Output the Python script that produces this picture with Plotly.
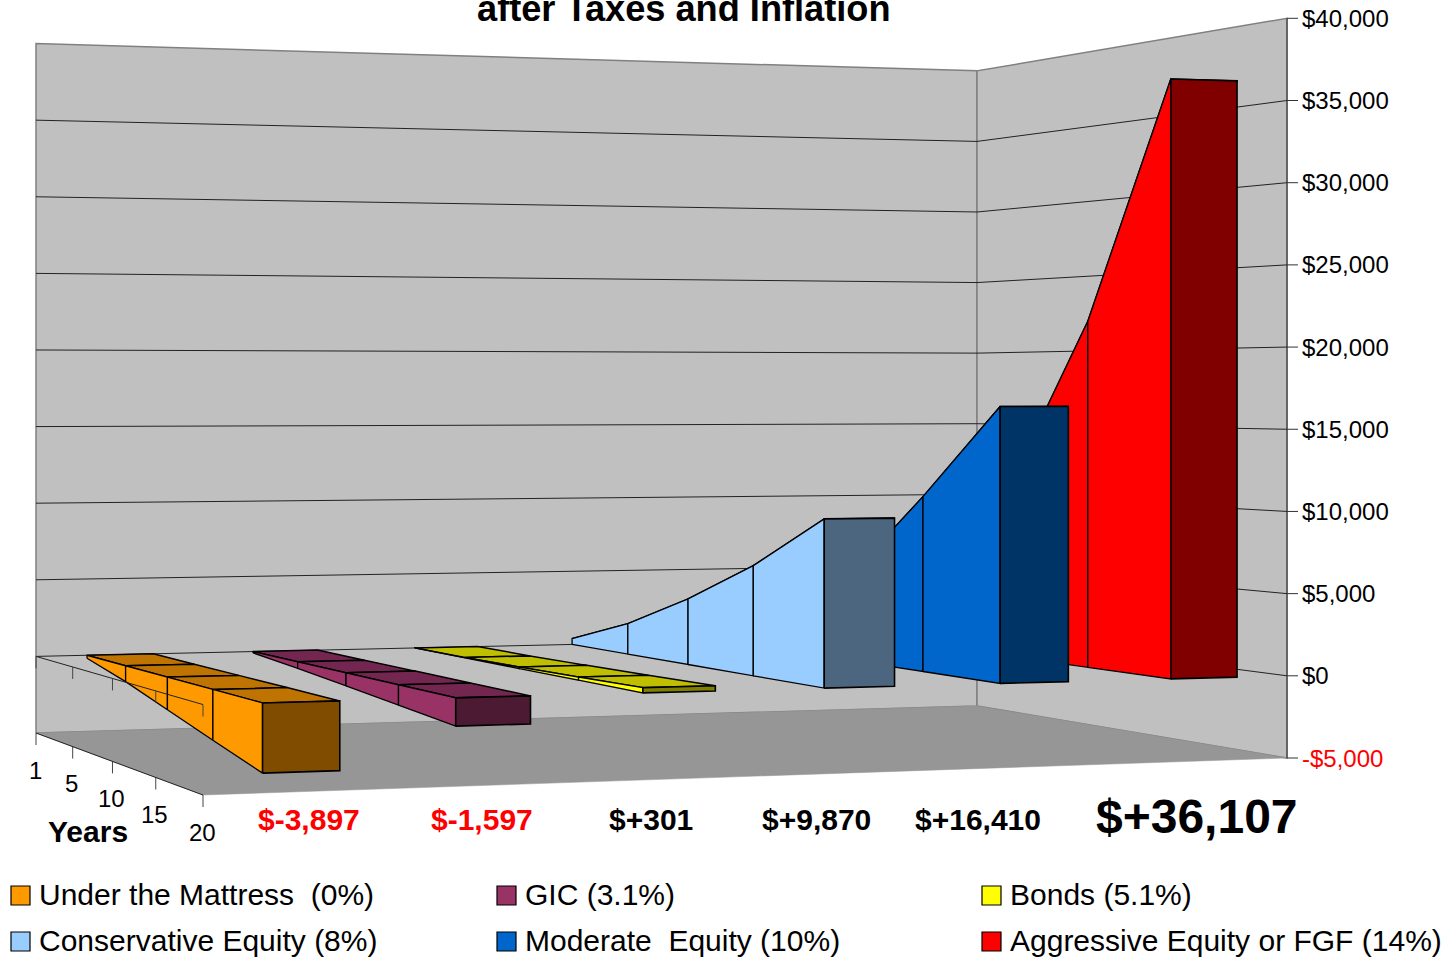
import numpy as np
import plotly.graph_objects as go

# values, years 1/5/10/15/20 (last one is the printed figure)
years = [1, 5, 10, 15, 20]
mattress = [-195, -1000, -1980, -2950, -3897]
gic = [-90, -420, -800, -1200, -1597]
bonds = [5, 30, 100, 190, 301]
conservative = [400, 2000, 4150, 6700, 9870]
moderate = [500, 2700, 5600, 10800, 16410]
aggressive = [800, 4000, 11400, 21700, 36107]

series = [mattress, gic, bonds, conservative, moderate, aggressive]
names = ["Under the Mattress  (0%)", "GIC (3.1%)", "Bonds (5.1%)",
         "Conservative Equity (8%)", "Moderate  Equity (10%)", "Aggressive Equity or FGF (14%)"]
final_labels = ["$-3,897", "$-1,597", "$+301", "$+9,870", "$+16,410", "$+36,107"]
z_ticks = [-5000, 0, 5000, 10000, 15000, 20000, 25000, 30000, 35000, 40000]
z_tick_labels = ["-$5,000", "$0", "$5,000", "$10,000", "$15,000", "$20,000",
                 "$25,000", "$30,000", "$35,000", "$40,000"]

# side colour, top colour, front colour
colors = [("#FF9900", "#BF7300", "#804D00"),
          ("#993366", "#732650", "#4D1A33"),
          ("#FFFF00", "#BFBF00", "#808000"),
          ("#99CCFF", "#7399BF", "#4D6680"),
          ("#0066CC", "#004D99", "#003366"),
          ("#FF0000", "#BF0000", "#800000")]

FONT = "Liberation Sans"
WALL = "#C0C0C0"
FLOOR = "#969696"
EDGE = "#808080"
BAR_HALF = 0.033

# perspective of the box: floor corners on the page, eye level, wall height per unit above eye level
corners_src = [(0, 0), (1, 0), (1, 1), (0, 1)]
corners_dst = [(36, 733), (977, 706), (1287, 758), (203, 795)]
HORIZON = 390
HEIGHT_RATIO = 2.01
Z_MIN, Z_MAX = z_ticks[0], z_ticks[-1]

A, b = [], []
for (u, v), (px, py) in zip(corners_src, corners_dst):
    A.append([u, v, 1, 0, 0, 0, -u * px, -v * px])
    A.append([0, 0, 0, u, v, 1, -u * py, -v * py])
    b += [px, py]
H = np.append(np.linalg.solve(np.array(A, float), np.array(b, float)), 1).reshape(3, 3)


def project(u, v, z):
    """category position u, year position v (both 0-1) and dollars to page position"""
    p = H @ np.array([u, v, 1.0])
    sx, sy = p[0] / p[2], p[1] / p[2]
    return sx, sy - (z - Z_MIN) / (Z_MAX - Z_MIN) * HEIGHT_RATIO * (sy - HORIZON)


fig = go.Figure()


def poly(points, fill, line="black", width=1.3):
    xs = [p[0] for p in points] + [points[0][0]]
    ys = [p[1] for p in points] + [points[0][1]]
    fig.add_trace(go.Scatter(x=xs, y=ys, mode="lines", fill="toself", fillcolor=fill,
                             line=dict(color=line, width=width), hoverinfo="skip", showlegend=False))


def path(points, color="black", width=1):
    fig.add_trace(go.Scatter(x=[p[0] for p in points], y=[p[1] for p in points], mode="lines",
                             line=dict(color=color, width=width), hoverinfo="skip", showlegend=False))


# walls and floor
poly([project(0, 0, Z_MIN), project(1, 0, Z_MIN), project(1, 0, Z_MAX), project(0, 0, Z_MAX)], WALL, EDGE, 1.5)
poly([project(1, 0, Z_MIN), project(1, 1, Z_MIN), project(1, 1, Z_MAX), project(1, 0, Z_MAX)], WALL, EDGE, 1.5)
for z in z_ticks[1:-1]:
    path([project(0, 0, z), project(1, 0, z), project(1, 1, z)], "#222222", 1)
poly([project(0, 0, Z_MIN), project(1, 0, Z_MIN), project(1, 1, Z_MIN), project(0, 1, Z_MIN)], FLOOR, FLOOR, 0.5)

# right hand value axis
path([project(1, 1, Z_MIN), project(1, 1, Z_MAX)], "#333333", 1)
annotations = []
for z, label in zip(z_ticks, z_tick_labels):
    x0, y0 = project(1, 1, z)
    path([(x0, y0), (x0 + 11, y0)], "#333333", 1)
    annotations.append(dict(x=x0 + 13, y=y0, text=label, xanchor="left", yanchor="middle", showarrow=False,
                            font=dict(family=FONT, size=24, color="#FF0000" if z < 0 else "black")))

# ribbons, right to left so the nearer ones cover the others
n = len(years)
for i in reversed(range(len(series))):
    values = series[i]
    side, top, front = colors[i]
    uc = (i + 0.5) / len(series)
    ul, ur = uc - BAR_HALF, uc + BAR_HALF
    for k in range(n - 1):
        v0, v1 = k / (n - 1), (k + 1) / (n - 1)
        hi0, hi1 = max(values[k], 0), max(values[k + 1], 0)
        poly([project(ul, v0, hi0), project(ul, v1, hi1), project(ur, v1, hi1), project(ur, v0, hi0)], top, "black", 1.5)
    for k in range(n - 1):
        v0, v1 = k / (n - 1), (k + 1) / (n - 1)
        hi0, hi1 = max(values[k], 0), max(values[k + 1], 0)
        lo0, lo1 = min(values[k], 0), min(values[k + 1], 0)
        poly([project(ul, v0, lo0), project(ul, v1, lo1), project(ul, v1, hi1), project(ul, v0, hi0)], side)
    last = values[-1]
    poly([project(ul, 1, min(last, 0)), project(ur, 1, min(last, 0)),
          project(ur, 1, max(last, 0)), project(ul, 1, max(last, 0))], front, "black", 1.6)

# years axis, on the floor edge and again at the $0 level
path([project(0, 0, 0), project(0, 1, 0)], "#222222", 1)
for k, year in enumerate(years):
    v = k / (n - 1)
    x0, y0 = project(0, v, 0)
    path([(x0, y0), (x0, y0 + 12)], "#444444", 1)
    x1, y1 = project(0, v, Z_MIN)
    path([(x1, y1), (x1, y1 + 12)], "#444444", 1)
    annotations.append(dict(x=x1 - 1, y=y1 + 37, text=str(year), showarrow=False,
                            font=dict(family=FONT, size=24, color="black")))
path([project(0, 0, Z_MIN), project(0, 1, Z_MIN)], "#222222", 1)

# texts
annotations.append(dict(x=684, y=8.5, text="<b>after Taxes and Inflation</b>", showarrow=False,
                        font=dict(family=FONT, size=36.2, color="black")))
annotations.append(dict(x=88, y=831, text="<b>Years</b>", showarrow=False,
                        font=dict(family=FONT, size=30, color="black")))

label_x = [309, 482, 651, 816, 978, 1197]
for i, label in enumerate(final_labels):
    big = i == len(final_labels) - 1
    annotations.append(dict(x=label_x[i], y=816.5 if big else 819, text=f"<b>{label}</b>", showarrow=False,
                            font=dict(family=FONT, size=48 if big else 30,
                                      color="#FF0000" if series[i][-1] < 0 else "black")))

# legend
legend_x = [11, 497, 982]
legend_y = [895, 941]
shapes = []
for i, name in enumerate(names):
    lx, ly = legend_x[i % 3], legend_y[i // 3]
    shapes.append(dict(type="rect", x0=lx, x1=lx + 19, y0=ly - 9, y1=ly + 10, xref="x", yref="y",
                       fillcolor=colors[i][0], line=dict(color="black", width=1.2)))
    annotations.append(dict(x=lx + 26, y=ly - 1, text=name, xanchor="left", showarrow=False,
                            font=dict(family=FONT, size=30, color="black")))

fig.update_layout(
    width=1447,
    height=960,
    margin=dict(l=0, r=0, t=0, b=0),
    paper_bgcolor="white",
    plot_bgcolor="white",
    showlegend=False,
    xaxis=dict(range=[0, 1447], visible=False),
    yaxis=dict(range=[960, 0], visible=False),
    annotations=annotations,
    shapes=shapes,
)

fig.write_html("out.html", config={"displayModeBar": False}, post_script="document.body.style.margin='0';")
